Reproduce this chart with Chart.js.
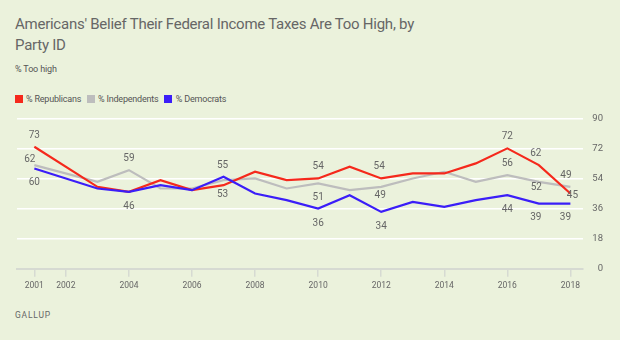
<!DOCTYPE html>
<html>
<head>
<meta charset="utf-8">
<script src="https://cdn.jsdelivr.net/npm/chart.js@4/dist/chart.umd.min.js"></script>
<style>
  html, body { margin:0; padding:0; }
  body { width:620px; height:340px; background:#ebf2dc; position:relative; overflow:hidden; font-family: Roboto, "Noto Sans", sans-serif; }
  #title { position:absolute; left:15px; top:14px; font-size:15px; line-height:20.5px; letter-spacing:-0.25px; color:#666; white-space:nowrap; }
  #subtitle { position:absolute; left:15px; top:63px; font-size:9px; line-height:12px; letter-spacing:-0.15px; color:#555; }
  #legend { position:absolute; left:0; top:93px; height:12px; width:620px; }
  .li { position:absolute; top:0; height:12px; font-size:9px; line-height:12px; letter-spacing:-0.2px; color:#555; white-space:nowrap; }
  .sw { position:absolute; left:0; top:2px; width:8px; height:8px; }
  .lt { position:absolute; left:11.5px; top:0; }
  #source { position:absolute; left:15px; top:308.5px; font-size:8.5px; line-height:12px; letter-spacing:0.8px; color:#666; }
  #c { position:absolute; left:0; top:0; }
</style>
</head>
<body>
<div id="title">Americans' Belief Their Federal Income Taxes Are Too High, by<br>Party ID</div>
<div id="subtitle">% Too high</div>
<div id="legend"></div>
<div id="source">GALLUP</div>
<canvas id="c" width="620" height="340"></canvas>
<script>
// ---- data ----
const years = [2001, 2003, 2004, 2005, 2006, 2007, 2008, 2009, 2010, 2011, 2012, 2013, 2014, 2015, 2016, 2017, 2018];
const republicans  = [73, 49, 46, 53, 47, 50, 58, 53, 54, 61, 54, 57, 57, 63, 72, 62, 45];
const independents = [62, 52, 59, 48, 48, 53, 54, 48, 51, 47, 49, 54, 58, 52, 56, 52, 49];
const democrats    = [60, 48, 46, 50, 47, 55, 45, 41, 36, 44, 34, 40, 37, 41, 44, 39, 39];
const seriesNames = ['% Republicans', '% Independents', '% Democrats'];
const xTickYears = [2001, 2002, 2004, 2006, 2008, 2010, 2012, 2014, 2016, 2018];
const yTicks = [0, 18, 36, 54, 72, 90];

// ---- styles ----
const colors = ['#f5291c', '#bdbdbd', '#3b1ef8'];
const seriesData = [republicans, independents, democrats];

// labelled points: series index, year, offset (styling only)
const labelled = [
  [0, 2001, 0, -11.5], [1, 2001, -4.5, -6], [2, 2001, 0, 14],
  [1, 2004, 0, -11.5], [2, 2004, 0, 14.5],
  [2, 2007, -1, -11.5], [1, 2007, -1, 14],
  [0, 2010, 0, -11.5], [1, 2010, 0, 14.5], [2, 2010, 0, 14.5],
  [0, 2012, -2, -11.5], [1, 2012, -1, 9], [2, 2012, 0, 14.5],
  [0, 2016, 0, -12], [1, 2016, 0, -11.5], [2, 2016, 0, 14],
  [0, 2017, -3, -12], [1, 2017, -2.5, 6], [2, 2017, -3, 13.5],
  [1, 2018, -4.5, -11.5], [0, 2018, 2, 2], [2, 2018, -5, 13.5]
];

// legend
const leg = document.getElementById('legend');
const legX = [14.5, 86.5, 164.3];
seriesNames.forEach((n, i) => {
  const d = document.createElement('div');
  d.className = 'li';
  d.style.left = legX[i] + 'px';
  d.innerHTML = '<span class="sw" style="background:' + colors[i] + '"></span><span class="lt"></span>';
  d.querySelector('.lt').textContent = n;
  leg.appendChild(d);
});

const valueLabels = {
  id: 'valueLabels',
  afterDatasetsDraw(chart) {
    const ctx = chart.ctx;
    const xs = chart.scales.x, ys = chart.scales.y;
    ctx.save();
    ctx.font = '10px Roboto, "Noto Sans", sans-serif';
    ctx.fillStyle = '#666';
    ctx.textAlign = 'center';
    ctx.textBaseline = 'middle';
    labelled.forEach(([s, yr, dx, dy]) => {
      const idx = years.indexOf(yr);
      const v = seriesData[s][idx];
      ctx.fillText(String(v), xs.getPixelForValue(yr) + dx, ys.getPixelForValue(v) + dy);
    });
    ctx.restore();
  }
};

const order = [1, 2, 0]; // democrats on top, then republicans, then independents
new Chart(document.getElementById('c'), {
  type: 'line',
  data: {
    datasets: seriesNames.map((n, i) => ({
      label: n,
      data: years.map((y, k) => ({ x: y, y: seriesData[i][k] })),
      borderColor: colors[i],
      backgroundColor: colors[i],
      borderWidth: 2.2,
      pointRadius: 0,
      tension: 0,
      order: order[i]
    }))
  },
  options: {
    responsive: false,
    animation: false,
    events: [],
    layout: { padding: { left: 17, top: 118.3, right: 17, bottom: 41.3 } },
    plugins: { legend: { display: false }, title: { display: false }, tooltip: { enabled: false } },
    scales: {
      x: {
        type: 'linear',
        min: 2000.45,
        max: 2018.4,
        afterBuildTicks(scale) { scale.ticks = xTickYears.map(v => ({ value: v })); },
        afterFit(scale) { scale.height = 30; },
        border: { display: true, color: '#d6dad2', width: 2 },
        grid: { display: true, drawOnChartArea: false, drawTicks: true, tickLength: 8, color: '#d6dad2', lineWidth: 1.5 },
        ticks: { color: '#666', font: { size: 8.5, family: 'Roboto' }, padding: 4, maxRotation: 0, autoSkip: false, callback: v => String(v) }
      },
      y: {
        position: 'right',
        min: 0,
        max: 90,
        afterBuildTicks(scale) { scale.ticks = yTicks.map(v => ({ value: v })); },
        afterFit(scale) { scale.width = 20; },
        border: { display: false },
        grid: { drawTicks: false, color: ctx => (ctx.tick && ctx.tick.value === 0) ? 'rgba(0,0,0,0)' : '#ffffff', lineWidth: 1.6 },
        ticks: { color: '#666', font: { size: 9.5, family: 'Roboto' }, padding: 9, crossAlign: 'far', autoSkip: false }
      }
    }
  },
  plugins: [valueLabels]
});
</script>
</body>
</html>
